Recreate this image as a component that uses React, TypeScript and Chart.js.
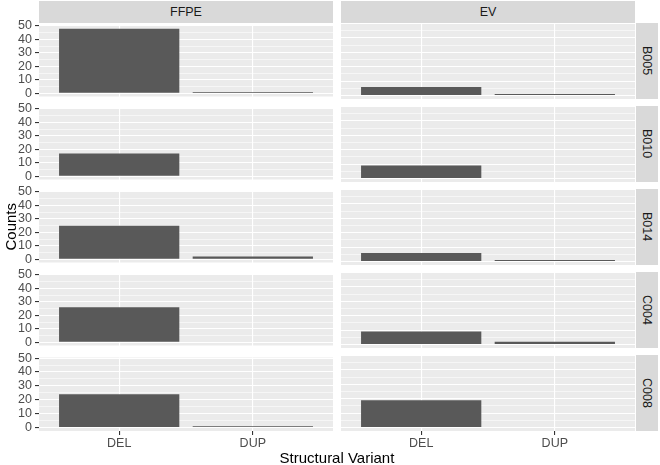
import React, { useEffect, useRef } from "react";
import { Chart, registerables } from "chart.js";

Chart.register(...registerables);

// ---- data ----
const samples = ["B005", "B010", "B014", "C004", "C008"];
const sources = ["FFPE", "EV"];
const variants = ["DEL", "DUP"];
const yTicks = [0, 10, 20, 30, 40, 50];
const ffpeDEL = [48, 17, 25, 26, 24];
const ffpeDUP = [1, 0, 2, 0, 1];
const evDEL = [6, 9, 6, 9, 19];
const evDUP = [1, 0, 1, 2, 0];

const seriesBySource: Record<string, number[][]> = {
  FFPE: [ffpeDEL, ffpeDUP],
  EV: [evDEL, evDUP],
};

// ---- layout ----
const PANEL_TOP = 23;
const PANEL_H = 76;
const PANEL_STEP = 83;
const PANEL_W = 294;
const AXIS_W = 39;
const COL_LEFT = [39, 341];
const PAD = 8;
const X_AXIS_H = 19;
const FONT = "'Liberation Sans', Arial, sans-serif";
const SMALL = 12.5;

const allVals = [...ffpeDEL, ...ffpeDUP, ...evDEL, ...evDUP];
const maxVal = Math.max(...allVals);
const yMin = -0.05 * maxVal;
const yMax = maxVal * 1.05;

const minorTicks: number[] = [];
for (let i = 0; i < yTicks.length; i++) {
  minorTicks.push(yTicks[i]);
  if (i < yTicks.length - 1) minorTicks.push((yTicks[i] + yTicks[i + 1]) / 2);
}

const panelBg = {
  id: "panelBg",
  beforeDraw(chart: any) {
    const { ctx, chartArea } = chart;
    ctx.save();
    ctx.fillStyle = "#EBEBEB";
    ctx.fillRect(chartArea.left, chartArea.top, chartArea.right - chartArea.left, chartArea.bottom - chartArea.top);
    ctx.restore();
  },
};

function Panel({ row, col }: { row: number; col: number }) {
  const ref = useRef<HTMLCanvasElement>(null);
  const isLeft = col === 0;
  const isBottom = row === samples.length - 1;
  const width = isLeft ? AXIS_W + PANEL_W : PANEL_W;
  const height = PAD + PANEL_H + (isBottom ? X_AXIS_H : PAD);
  const left = isLeft ? 0 : COL_LEFT[col];
  const top = PANEL_TOP + row * PANEL_STEP - PAD;

  useEffect(() => {
    const src = seriesBySource[sources[col]];
    const values = variants.map((_, i) => src[i][row]);
    const chart = new Chart(ref.current as HTMLCanvasElement, {
      type: "bar",
      data: {
        datasets: [
          {
            data: values.map((v, i) => ({ x: i + 1, y: v })),
            backgroundColor: "#595959",
            borderWidth: 0,
            barPercentage: 0.9,
            categoryPercentage: 1,
          },
        ],
      },
      options: {
        animation: false,
        responsive: false,
        maintainAspectRatio: false,
        devicePixelRatio: 1,
        layout: { padding: { top: PAD, bottom: isBottom ? 0 : PAD, left: 0, right: 0 } },
        plugins: { legend: { display: false }, tooltip: { enabled: false } },
        scales: {
          x: {
            type: "linear",
            min: 0.4,
            max: 2.6,
            offset: false,
            border: { display: false },
            grid: {
              offset: false,
              color: "#FFFFFF",
              lineWidth: 1.1,
              drawTicks: isBottom,
              tickLength: 4,
              tickColor: "#333333",
              tickWidth: 1.1,
            },
            ticks: {
              display: isBottom,
              autoSkip: false,
              maxRotation: 0,
              padding: 1,
              color: "#4D4D4D",
              font: { family: FONT, size: SMALL },
              callback: (v: any) => variants[Number(v) - 1] ?? "",
            },
            afterBuildTicks: (s: any) => {
              s.ticks = variants.map((_, i) => ({ value: i + 1 }));
            },
            afterFit: (s: any) => {
              s.height = isBottom ? X_AXIS_H : 0;
              s.paddingLeft = 0;
              s.paddingRight = 0;
            },
          },
          y: {
            type: "linear",
            min: yMin,
            max: yMax,
            border: { display: false },
            grid: {
              color: "#FFFFFF",
              lineWidth: (c: any) => (yTicks.includes(c.tick?.value) ? 1.1 : 0.55),
              drawTicks: isLeft,
              tickLength: 4,
              tickWidth: 1.1,
              tickColor: (c: any) => (yTicks.includes(c.tick?.value) ? "#333333" : "rgba(0,0,0,0)"),
            },
            ticks: {
              display: isLeft,
              autoSkip: false,
              padding: 3,
              color: "#4D4D4D",
              font: { family: FONT, size: SMALL },
              callback: (v: any) => (yTicks.includes(Number(v)) ? String(v) : ""),
            },
            afterBuildTicks: (s: any) => {
              s.ticks = minorTicks.map((v) => ({ value: v }));
            },
            afterFit: (s: any) => {
              s.width = isLeft ? AXIS_W : 0;
            },
          },
        },
      },
      plugins: [panelBg],
    });
    return () => chart.destroy();
  }, [row, col]);

  return (
    <canvas
      ref={ref}
      width={width}
      height={height}
      style={{ position: "absolute", left, top, width, height }}
    />
  );
}

export default function App() {
  const textBase: React.CSSProperties = { position: "absolute", fontFamily: FONT, whiteSpace: "nowrap" };
  return (
    <div
      style={{
        position: "fixed",
        left: 0,
        top: 0,
        width: 660,
        height: 465,
        background: "#FFFFFF",
        overflow: "hidden",
        fontFamily: FONT,
      }}
    >
      {sources.map((s, c) => (
        <div
          key={s}
          style={{
            ...textBase,
            left: COL_LEFT[c],
            top: 1,
            width: PANEL_W,
            height: PANEL_TOP - 1,
            background: "#D9D9D9",
            color: "#1A1A1A",
            fontSize: SMALL,
            lineHeight: `${PANEL_TOP - 1}px`,
            textAlign: "center",
          }}
        >
          {s}
        </div>
      ))}
      {samples.map((s, r) => (
        <div
          key={s}
          style={{
            ...textBase,
            left: 636,
            top: PANEL_TOP + r * PANEL_STEP,
            width: 22,
            height: PANEL_H,
            background: "#D9D9D9",
            color: "#1A1A1A",
            fontSize: SMALL,
            display: "flex",
            alignItems: "center",
            justifyContent: "center",
          }}
        >
          <span style={{ writingMode: "vertical-rl" }}>{s}</span>
        </div>
      ))}
      {samples.map((s, r) =>
        sources.map((src, c) => <Panel key={s + src} row={r} col={c} />)
      )}
      <div
        style={{
          ...textBase,
          left: 1,
          top: 23,
          width: 18,
          height: 408,
          display: "flex",
          alignItems: "center",
          justifyContent: "center",
          fontSize: 15,
          fontWeight: "normal",
          color: "#000000",
        }}
      >
        <span style={{ writingMode: "vertical-rl", transform: "rotate(180deg)" }}>Counts</span>
      </div>
      <div
        style={{
          ...textBase,
          left: 337,
          top: 457,
          fontSize: 15,
          color: "#000000",
          transform: "translate(-50%, -50%)",
        }}
      >
        Structural Variant
      </div>
    </div>
  );
}
